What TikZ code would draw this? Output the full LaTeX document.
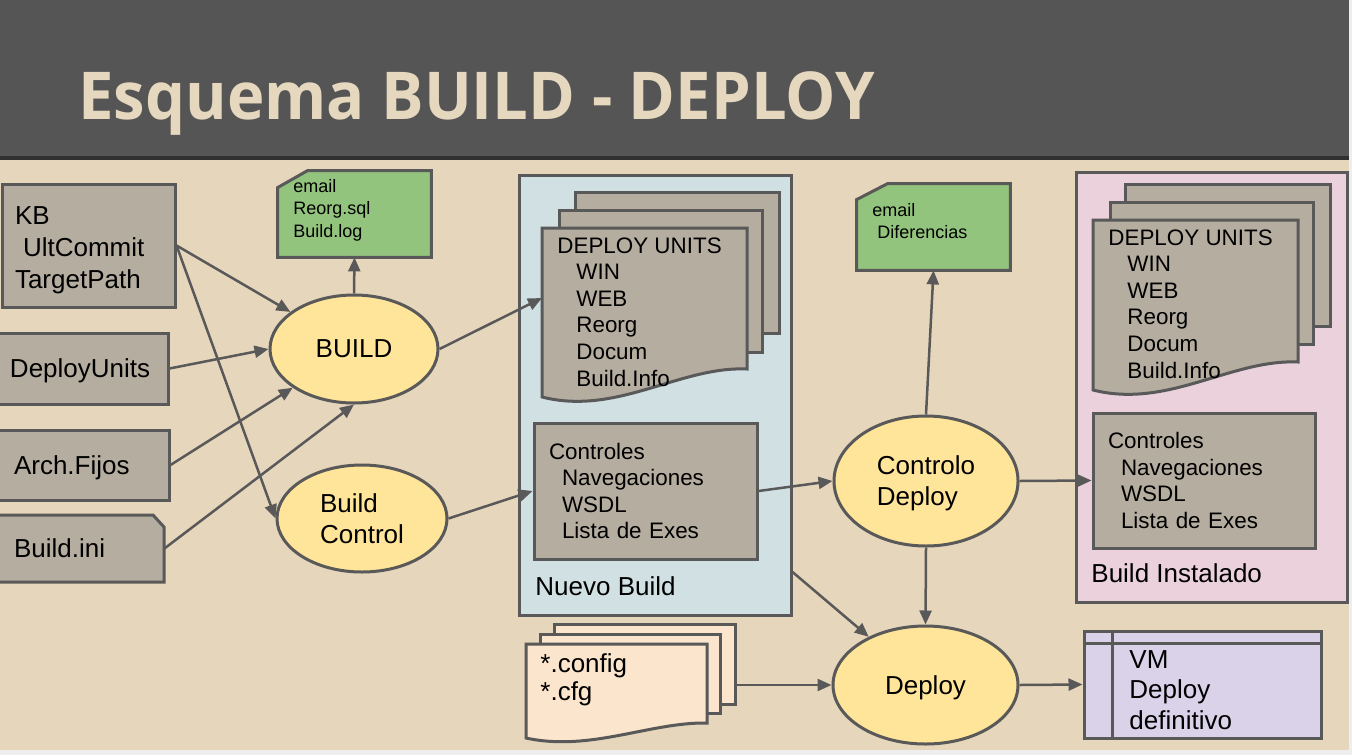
\documentclass[tikz,border=0pt]{standalone}
\usepackage{fontspec}
\setmainfont{Liberation Sans}
\newfontfamily\titlefont[FakeStretch=0.96]{Open Sans}
\usetikzlibrary{shapes.geometric,arrows.meta}
\definecolor{sand}{HTML}{E6D6BC}
\definecolor{slate}{HTML}{555555}
\definecolor{rulec}{HTML}{303030}
\definecolor{stone}{HTML}{B4ADA0}
\definecolor{edge}{HTML}{595959}
\definecolor{sun}{HTML}{FFE599}
\definecolor{leaf}{HTML}{93C47D}
\definecolor{ice}{HTML}{D0E0E3}
\definecolor{rose}{HTML}{EAD1DC}
\definecolor{peach}{HTML}{FCE5CD}
\definecolor{lilac}{HTML}{D9D2E9}
\definecolor{cream}{HTML}{E6D8BF}
\definecolor{mist}{HTML}{EEEEEE}

\begin{document}
\begin{tikzpicture}[x=0.5pt,y=-0.5pt,>={Triangle[length=7pt,width=6pt]},font=\fontsize{13}{16}\selectfont,
	box/.style={draw=edge,line width=1.5pt,fill=stone,align=left,inner ysep=0pt},
	oneline/.style={text depth=0pt},
	oval/.style={ellipse,draw=edge,line width=1.5pt,fill=sun,inner sep=0pt,align=left,text depth=0pt,font=\fontsize{13}{15.5}\selectfont},
	spot/.style={inner sep=0pt},
	holder/.style={draw=edge,line width=1.5pt,inner sep=0pt},
	sheet/.style={draw=edge,line width=1.5pt,fill=stone},
	txt/.style={anchor=north west,inner sep=0pt,align=left},
	listfont/.style={font=\fontsize{11.2}{13.3}\selectfont},
	conn/.style={->,draw=edge,line width=1.25pt}]
	\useasboundingbox (0,0) rectangle (1352,755);
	\fill[sand] (0,0) rectangle (1352,755);
	\fill[slate] (0,0) rectangle (1352,156);
	\fill[rulec] (0,156) rectangle (1352,160);
	\fill[mist] (1349,0) rectangle (1352,755);
	\fill[mist] (0,750) rectangle (1352,755);
	\node[anchor=base west,inner sep=0pt,text=cream,font=\titlefont\bfseries\fontsize{33}{40}\selectfont] (title) at (78,119) {Esquema BUILD - DEPLOY};

	\node[box,minimum width=86.5pt,minimum height=61.5pt,text width=73.5pt,inner xsep=6.5pt] (kb) at (88.5,245.5) {\rule{0pt}{14pt}KB\\\hspace*{4pt}UltCommit\\TargetPath};
	\node[box,oneline,minimum width=86pt,minimum height=35.5pt,text width=72pt,inner xsep=7pt] (units) at (82,368.5) {DeployUnits};
	\node[box,oneline,minimum width=86.5pt,minimum height=35pt,text width=68.5pt,inner xsep=9pt] (fixed) at (82.5,465) {Arch.Fijos};
	\draw[sheet] (-4,515) -- (153,515) -- (164,527) -- (164,582) -- (-4,582) -- cycle;
	\node[spot,oneline,minimum width=84pt,minimum height=33.5pt,text width=66pt,inner xsep=9pt] (ini) at (80,548.5) {Build.ini};

	\node[oval,minimum width=84pt,minimum height=54pt] (build) at (354,349) {BUILD};
	\node[oval,minimum width=85pt,minimum height=53.5pt] (bctl) at (362,518.5) {Build\\Control};
	\node[oval,minimum width=92pt,minimum height=65pt] (check) at (926,481) {Controlo\\Deploy};
	\node[oval,minimum width=92.5pt,minimum height=59pt] (deploy) at (925.5,685) {Deploy};

	\node[spot,minimum width=76.5pt,minimum height=43pt] (mail1) at (354.5,214) {};
	\draw[sheet,fill=leaf] ([yshift=-8.5pt]mail1.north west) -- ([xshift=15pt]mail1.north west) -- (mail1.north east) -- (mail1.south east) -- (mail1.south west) -- cycle;
	\node[txt,font=\fontsize{9}{11.25}\selectfont] (mail1t) at (293,179) {email\\Reorg.sql\\Build.log};
	\node[spot,minimum width=76.5pt,minimum height=43pt] (mail2) at (933.5,227) {};
	\draw[sheet,fill=leaf] ([yshift=-8pt]mail2.north west) -- ([xshift=15.5pt]mail2.north west) -- (mail2.north east) -- (mail2.south east) -- (mail2.south west) -- cycle;
	\node[txt,font=\fontsize{9}{11}\selectfont] (mail2t) at (872,203) {email\\\hspace*{2.5pt}Diferencias};

	\node[holder,fill=ice,minimum width=136pt,minimum height=220pt] (newb) at (655,395) {};
	\node[anchor=base west,inner sep=0pt] (newbl) at (535,595) {Nuevo Build};
	\node[box,minimum width=102pt,minimum height=70.5pt] (nb3) at (677,262.5) {};
	\node[box,minimum width=101.5pt,minimum height=71pt] (nb2) at (660.5,281) {};
	\draw[sheet] (542,228) -- (747,228) -- (747,369) .. controls (680,366) and (617,416) .. (542,397) -- cycle;
	\node[txt,listfont] (nbdu) at (557,237) {DEPLOY UNITS\\\hspace*{9.5pt}WIN\\\hspace*{9.5pt}WEB\\\hspace*{9.5pt}Reorg\\\hspace*{9.5pt}Docum\\\hspace*{9.5pt}Build.Info};
	\coordinate (nbin) at (542,298);
	\node[box,listfont,minimum width=111.5pt,minimum height=68pt,text width=96.5pt,inner xsep=7.5pt] (nbctl) at (645.5,491) {Controles\\\hspace*{6.5pt}Navegaciones\\\hspace*{6.5pt}WSDL\\\hspace*{6.5pt}Lista de Exes};

	\node[holder,fill=rose,minimum width=135.5pt,minimum height=215pt] (inst) at (1211.5,387) {};
	\node[anchor=base west,inner sep=0pt] (instl) at (1091,582) {Build Instalado};
	\node[box,minimum width=102.5pt,minimum height=71pt] (bi3) at (1227.5,255) {};
	\node[box,minimum width=101.5pt,minimum height=71pt] (bi2) at (1211.5,273) {};
	\draw[sheet] (1093,220) -- (1298,220) -- (1298,362) .. controls (1231,359) and (1168,409) .. (1093,390) -- cycle;
	\node[txt,listfont] (bidu) at (1108,229) {DEPLOY UNITS\\\hspace*{9.5pt}WIN\\\hspace*{9.5pt}WEB\\\hspace*{9.5pt}Reorg\\\hspace*{9.5pt}Docum\\\hspace*{9.5pt}Build.Info};
	\node[box,listfont,minimum width=111pt,minimum height=67.5pt,text width=96pt,inner xsep=7.5pt] (bictl) at (1204,480.5) {Controles\\\hspace*{6.5pt}Navegaciones\\\hspace*{6.5pt}WSDL\\\hspace*{6.5pt}Lista de Exes};

	\node[box,fill=peach,minimum width=90.5pt,minimum height=40pt] (cfg3) at (644.5,664) {};
	\node[box,fill=peach,minimum width=90pt,minimum height=39.5pt] (cfg2) at (630,673.5) {};
	\draw[sheet,fill=peach] (526,644) -- (707,644) -- (707,723) .. controls (650,722) and (590,752) .. (526,738) -- cycle;
	\node[txt,font=\fontsize{13}{14}\selectfont] (cfgt) at (540,653) {*.config\\*.cfg};

	\node[box,fill=lilac,minimum width=118.5pt,minimum height=53.5pt] (vm) at (1202.5,684.5) {};
	\draw[edge,line width=1.5pt] ([yshift=-7pt]vm.north west) -- ([yshift=-7pt]vm.north east) ([xshift=15pt]vm.north west) -- ([xshift=15pt]vm.south west);
	\node[txt,font=\fontsize{13}{15.25}\selectfont] (vmt) at (1129,650) {VM\\Deploy\\definitivo};

	\draw[conn] (kb.east) -- (build);
	\draw[conn] (kb.east) -- (bctl.west);
	\draw[conn] (units.east) -- (build.west);
	\draw[conn] (fixed.east) -- (build);
	\draw[conn] (ini.east) -- (build.south);
	\draw[conn] (build.north) -- (mail1.south);
	\draw[conn] (build.east) -- (nbin);
	\draw[conn] (bctl.east) -- (nbctl.west);
	\draw[conn] (nbctl.east) -- (check.west);
	\draw[conn] (check.north) -- (mail2.south);
	\draw[conn] (check.east) -- (bictl.west);
	\draw[conn] (check.south) -- (deploy.north);
	\draw[conn] (newb.east |- 0,572) -- (deploy);
	\draw[conn] (cfg3.east |- deploy.west) -- (deploy.west);
	\draw[conn] (deploy.east) -- (vm.west);
\end{tikzpicture}
\end{document}
